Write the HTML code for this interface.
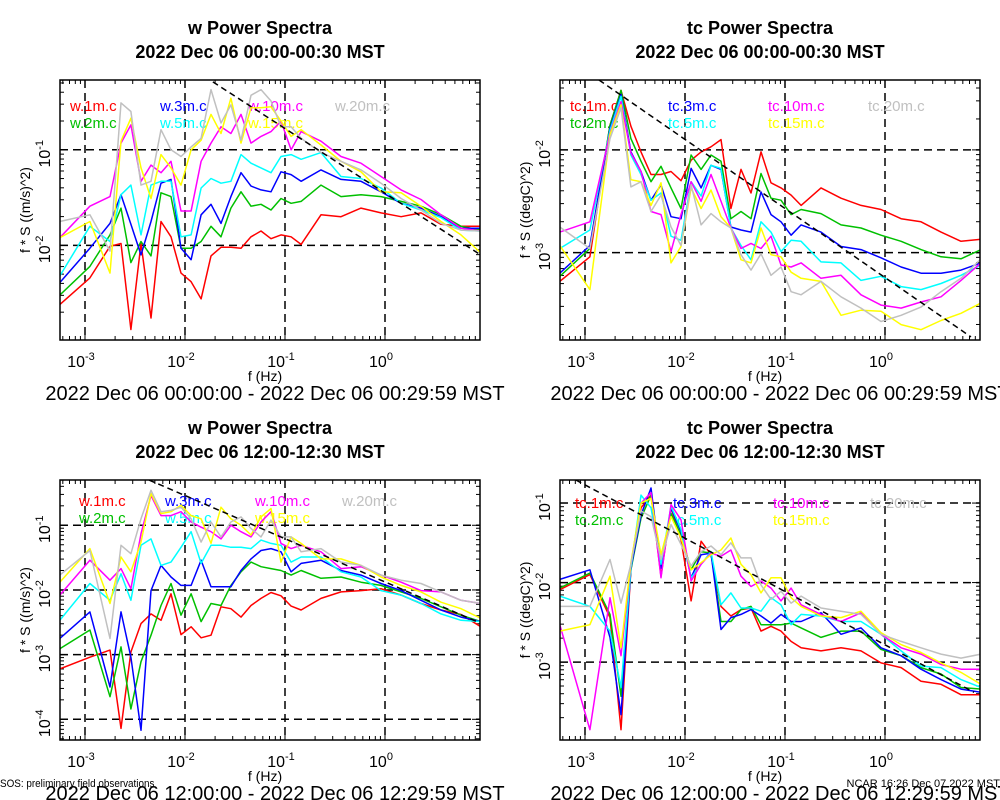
<!DOCTYPE html>
<html><head><meta charset="utf-8">
<style>
html,body{margin:0;padding:0;background:#fff;}
svg{display:block;font-family:"Liberation Sans",sans-serif;}
</style></head>
<body>
<svg id="chart" width="1000" height="800" viewBox="0 0 1000 800" xmlns="http://www.w3.org/2000/svg"></svg>
<script>
// shared frequency categories (Hz)
const freqs = [5.6e-4,1.12e-3,1.78e-3,2.29e-3,2.88e-3,3.63e-3,4.57e-3,5.75e-3,7.24e-3,9.12e-3,0.0115,0.0145,0.0182,0.0229,0.0288,0.0363,0.0457,0.0575,0.0724,0.0912,0.115,0.145,0.229,0.363,0.575,0.912,1.45,2.29,3.63,5.75,9.12];
const xTickExps = [-3,-2,-1,0];
const heights = ["1m","2m","3m","5m","10m","15m","20m"];
const colors = ["#ff0000","#00c000","#0000ff","#00ffff","#ff00ff","#ffff00","#c0c0c0"];

// Panel 1: w 00:00 (log10 of f*S)
const w_am_1m = [-2.62,-2.34,-2.01,-1.98,-2.88,-1.98,-2.76,-1.75,-1.91,-2.29,-2.38,-2.56,-2.11,-2.02,-2.02,-2.03,-1.91,-1.85,-1.93,-1.89,-1.91,-1.99,-1.68,-1.70,-1.61,-1.66,-1.70,-1.66,-1.78,-1.80,-1.80];
const w_am_2m = [-2.52,-2.22,-1.89,-1.61,-2.18,-1.96,-2.11,-1.45,-1.49,-2.03,-2.03,-1.96,-1.80,-1.91,-1.61,-1.44,-1.59,-1.57,-1.63,-1.51,-1.56,-1.54,-1.37,-1.49,-1.47,-1.49,-1.54,-1.59,-1.68,-1.80,-1.84];
const w_am_3m = [-2.39,-2.03,-1.77,-1.47,-1.78,-2.10,-1.75,-1.35,-1.31,-2.03,-2.15,-1.68,-1.57,-1.77,-1.49,-1.24,-1.38,-1.42,-1.44,-1.23,-1.26,-1.33,-1.21,-1.31,-1.33,-1.44,-1.56,-1.61,-1.70,-1.82,-1.82];
const w_am_5m = [-2.32,-1.80,-1.96,-1.47,-1.37,-1.89,-1.37,-1.33,-1.33,-1.91,-1.89,-1.40,-1.30,-1.35,-1.33,-1.05,-1.14,-1.19,-1.24,-1.07,-1.05,-1.10,-1.03,-1.28,-1.30,-1.40,-1.56,-1.63,-1.71,-1.84,-1.85];
const w_am_10m = [-1.92,-1.59,-1.49,-0.93,-0.74,-1.33,-1.16,-1.24,-1.12,-1.64,-1.64,-1.12,-0.93,-0.76,-0.83,-0.63,-0.93,-0.86,-0.81,-0.70,-1.00,-0.81,-0.91,-1.07,-1.14,-1.28,-1.42,-1.52,-1.68,-1.82,-1.85];
const w_am_15m = [-1.92,-1.75,-2.29,-0.91,-0.67,-1.19,-1.51,-1.05,-1.19,-1.37,-1.00,-0.90,-0.63,-0.83,-0.46,-0.93,-0.56,-0.56,-0.55,-0.70,-0.86,-0.79,-0.95,-1.12,-1.23,-1.44,-1.45,-1.59,-1.75,-1.89,-2.08];
const w_am_20m = [-1.75,-1.68,-2.06,-0.51,-0.60,-1.37,-1.33,-0.79,-1.00,-1.07,-0.97,-0.88,-0.37,-0.72,-0.53,-0.90,-0.43,-0.37,-0.49,-0.76,-0.76,-0.88,-1.03,-1.12,-1.21,-1.35,-1.51,-1.63,-1.77,-1.84,-1.85];

// Panel 2: tc 00:00
const tc_am_1m = [-3.28,-3.04,-1.76,-1.42,-1.77,-2.02,-2.24,-2.24,-2.21,-2.30,-2.10,-2.02,-1.97,-1.90,-2.57,-2.19,-2.42,-2.02,-2.32,-2.37,-2.44,-2.54,-2.37,-2.47,-2.54,-2.58,-2.67,-2.70,-2.80,-2.89,-2.87];
const tc_am_2m = [-3.23,-2.96,-1.76,-1.42,-1.89,-2.11,-2.31,-2.16,-2.37,-2.57,-2.05,-2.19,-2.05,-2.11,-2.67,-2.60,-2.67,-2.23,-2.47,-2.49,-2.63,-2.58,-2.62,-2.73,-2.76,-2.83,-2.89,-2.97,-3.04,-3.06,-2.97];
const tc_am_3m = [-3.20,-2.93,-1.79,-1.46,-2.02,-2.21,-2.49,-2.34,-2.65,-2.67,-2.18,-2.37,-2.15,-2.19,-2.75,-2.78,-2.80,-2.41,-2.63,-2.70,-2.83,-2.73,-2.80,-2.94,-2.97,-3.05,-3.14,-3.20,-3.20,-3.17,-3.10];
const tc_am_5m = [-2.96,-2.78,-1.81,-1.48,-2.05,-2.24,-2.49,-2.42,-2.84,-2.88,-2.31,-2.45,-2.15,-2.18,-2.76,-2.93,-3.07,-2.70,-2.80,-2.99,-2.88,-2.89,-3.09,-3.10,-3.27,-3.23,-3.33,-3.36,-3.30,-3.22,-3.12];
const tc_am_10m = [-2.80,-2.70,-1.84,-1.53,-2.03,-2.21,-2.60,-2.63,-2.99,-2.63,-2.31,-2.50,-2.24,-2.50,-2.76,-2.96,-2.91,-2.96,-2.84,-3.12,-3.14,-3.10,-3.25,-3.22,-3.41,-3.51,-3.54,-3.48,-3.43,-3.27,-3.10];
const tc_am_15m = [-2.93,-3.36,-1.85,-1.56,-2.29,-2.31,-2.54,-2.32,-3.10,-2.94,-2.37,-2.57,-2.39,-2.65,-2.76,-3.07,-3.10,-2.76,-3.02,-3.04,-3.19,-3.25,-3.28,-3.61,-3.56,-3.57,-3.70,-3.75,-3.66,-3.59,-3.49];
const tc_am_20m = [-2.75,-2.96,-1.89,-1.59,-2.36,-2.31,-2.60,-2.44,-2.75,-2.93,-2.34,-2.73,-2.62,-2.70,-2.76,-3.02,-3.17,-3.01,-3.22,-3.14,-3.38,-3.41,-3.28,-3.43,-3.54,-3.67,-3.61,-3.53,-3.38,-3.25,-3.06];

// Panel 3: w 12:00
const w_pm_1m = [-3.22,-3.04,-2.93,-4.14,-2.96,-2.52,-2.37,-2.47,-2.06,-2.69,-2.57,-2.74,-2.70,-2.26,-2.29,-2.42,-2.24,-2.13,-2.04,-2.09,-2.25,-2.31,-2.13,-2.03,-2.01,-1.98,-2.08,-2.21,-2.31,-2.38,-2.57];
const w_pm_2m = [-2.91,-2.62,-3.65,-2.88,-3.84,-3.11,-2.70,-2.24,-1.90,-2.39,-2.06,-2.49,-2.21,-2.24,-1.93,-1.72,-1.57,-1.64,-1.67,-1.70,-1.77,-1.70,-1.82,-1.80,-1.88,-1.93,-2.03,-2.13,-2.26,-2.39,-2.49];
const w_pm_3m = [-2.75,-2.34,-3.50,-2.34,-3.04,-4.17,-2.01,-1.62,-1.80,-1.93,-1.93,-1.54,-1.95,-1.95,-1.95,-1.70,-1.52,-1.39,-1.36,-1.41,-1.72,-1.59,-1.54,-1.70,-1.77,-1.90,-2.01,-2.16,-2.31,-2.42,-2.49];
const w_pm_5m = [-2.47,-1.90,-2.16,-1.75,-2.16,-1.31,-1.21,-1.62,-1.57,-1.34,-1.10,-1.59,-1.31,-1.31,-1.34,-1.34,-1.36,-1.23,-1.28,-1.31,-1.57,-1.49,-1.49,-1.72,-1.80,-2.01,-2.08,-2.21,-2.37,-2.47,-2.49];
const w_pm_10m = [-2.08,-1.54,-1.85,-1.67,-1.98,-1.13,-0.54,-0.85,-0.85,-0.79,-0.95,-1.03,-1.10,-1.21,-1.00,-1.10,-1.18,-0.95,-0.79,-1.28,-1.36,-1.31,-1.41,-1.67,-1.64,-1.77,-1.88,-2.01,-2.03,-2.16,-2.21];
const w_pm_15m = [-1.88,-1.36,-2.21,-1.49,-1.72,-1.26,-0.51,-0.82,-0.79,-0.69,-0.85,-0.90,-1.28,-0.72,-0.90,-1.00,-1.15,-0.87,-0.74,-1.57,-1.18,-1.28,-1.52,-1.52,-1.62,-1.80,-1.93,-2.03,-2.19,-2.29,-2.44];
const w_pm_20m = [-1.77,-1.39,-2.75,-1.31,-1.44,-0.90,-0.46,-0.79,-0.77,-0.72,-0.90,-1.26,-0.95,-1.18,-0.95,-0.87,-1.05,-1.18,-0.92,-1.18,-1.18,-1.41,-1.36,-1.57,-1.62,-1.77,-1.85,-1.90,-2.03,-2.16,-2.21];

// Panel 4: tc 12:00
const tc_pm_1m = [-2.09,-1.90,-2.44,-3.85,-1.84,-1.06,-0.90,-1.92,-1.06,-1.46,-2.23,-1.48,-1.65,-2.30,-2.42,-2.34,-2.32,-2.61,-2.55,-2.61,-2.74,-2.82,-2.86,-2.82,-2.86,-3.01,-3.07,-3.24,-3.28,-3.41,-3.41];
const tc_pm_2m = [-2.07,-1.88,-2.40,-3.43,-1.84,-1.19,-0.90,-1.77,-1.13,-1.40,-1.84,-1.61,-1.63,-2.49,-2.49,-2.34,-2.30,-2.53,-2.53,-2.53,-2.51,-2.57,-2.69,-2.61,-2.61,-2.84,-2.92,-3.07,-3.15,-3.32,-3.34];
const tc_pm_3m = [-1.96,-1.84,-2.69,-3.66,-1.82,-1.15,-0.81,-1.82,-1.06,-1.36,-1.94,-1.65,-1.63,-2.59,-2.44,-2.40,-2.34,-2.42,-2.51,-2.40,-2.49,-2.49,-2.38,-2.65,-2.57,-2.82,-2.92,-3.09,-3.22,-3.34,-3.38];
const tc_pm_5m = [-2.17,-2.30,-2.61,-3.32,-1.82,-0.90,-1.06,-1.77,-1.04,-1.33,-1.94,-1.77,-1.61,-2.28,-2.13,-2.32,-2.32,-2.36,-2.19,-2.28,-2.53,-2.40,-2.42,-2.49,-2.49,-2.65,-2.86,-3.05,-3.07,-3.22,-3.32];
const tc_pm_10m = [-2.53,-3.85,-2.19,-2.92,-1.77,-1.00,-0.87,-1.94,-1.02,-1.21,-1.98,-1.77,-1.63,-1.67,-1.59,-1.92,-2.05,-1.98,-2.07,-2.23,-2.07,-2.28,-2.40,-2.49,-2.38,-2.65,-2.82,-2.90,-3.03,-3.09,-3.09];
const tc_pm_15m = [-2.61,-2.53,-1.92,-2.82,-1.75,-1.00,-0.94,-1.65,-1.17,-1.44,-1.84,-1.75,-1.65,-1.59,-1.44,-1.77,-1.90,-2.13,-1.94,-1.94,-2.19,-2.30,-2.42,-2.44,-2.36,-2.63,-2.78,-2.88,-3.01,-3.13,-3.28];
const tc_pm_20m = [-2.30,-2.30,-1.71,-2.26,-1.77,-1.10,-1.17,-1.71,-1.27,-1.52,-1.79,-1.61,-1.54,-1.65,-1.50,-1.69,-1.69,-2.03,-2.21,-2.11,-2.26,-2.17,-2.32,-2.36,-2.40,-2.65,-2.74,-2.82,-2.90,-2.95,-2.90];

// reference -2/3 slope lines: [freq, log10 value] endpoints
const ref_w_am = [[0.019,-0.29],[9.05,-2.10]];
const ref_tc_am = [[0.00138,-1.32],[7.24,-3.82]];
const ref_w_pm = [[0.00437,-0.30],[8.3,-2.49]];
const ref_tc_pm = [[0.00081,-0.71],[7.76,-3.38]];

const NS="http://www.w3.org/2000/svg";
const svg=document.getElementById('chart');
function el(tag,attrs,parent){const e=document.createElementNS(NS,tag);for(const k in attrs)e.setAttribute(k,attrs[k]);(parent||svg).appendChild(e);return e;}

const panels=[
 {id:'w-am',x0:60,y0:80,x1:480,y1:340,yTop:-0.27,yBot:-2.99,yt:[-1,-2],var:'w',unit:'((m/s)^2)',t2:'2022 Dec 06 00:00-00:30 MST',date:'2022 Dec 06 00:00:00 - 2022 Dec 06 00:29:59 MST',series:[w_am_1m,w_am_2m,w_am_3m,w_am_5m,w_am_10m,w_am_15m,w_am_20m],ref:ref_w_am,leg:{x:[70,160,248,335],y:[111,128]}},
 {id:'tc-am',x0:560,y0:80,x1:980,y1:340,yTop:-1.32,yBot:-3.85,yt:[-2,-3],var:'tc',unit:'((degC)^2)',t2:'2022 Dec 06 00:00-00:30 MST',date:'2022 Dec 06 00:00:00 - 2022 Dec 06 00:29:59 MST',series:[tc_am_1m,tc_am_2m,tc_am_3m,tc_am_5m,tc_am_10m,tc_am_15m,tc_am_20m],ref:ref_tc_am,leg:{x:[570,668,768,868],y:[111,128]}},
 {id:'w-pm',x0:60,y0:480,x1:480,y1:740,yTop:-0.30,yBot:-4.32,yt:[-1,-2,-3,-4],var:'w',unit:'((m/s)^2)',t2:'2022 Dec 06 12:00-12:30 MST',date:'2022 Dec 06 12:00:00 - 2022 Dec 06 12:29:59 MST',series:[w_pm_1m,w_pm_2m,w_pm_3m,w_pm_5m,w_pm_10m,w_pm_15m,w_pm_20m],ref:ref_w_pm,leg:{x:[79,165,255,342],y:[506,523]}},
 {id:'tc-pm',x0:560,y0:480,x1:980,y1:740,yTop:-0.71,yBot:-3.98,yt:[-1,-2,-3],var:'tc',unit:'((degC)^2)',t2:'2022 Dec 06 12:00-12:30 MST',date:'2022 Dec 06 12:00:00 - 2022 Dec 06 12:29:59 MST',series:[tc_pm_1m,tc_pm_2m,tc_pm_3m,tc_pm_5m,tc_pm_10m,tc_pm_15m,tc_pm_20m],ref:ref_tc_pm,leg:{x:[575,673,773,870],y:[508,525]}}
];

panels.forEach((p,pi)=>{
 const g=el('g',{});
 
 
 const xL=-3.25,xR=0.95;
 const X=f=>p.x0+(Math.log10(f)-xL)/(xR-xL)*(p.x1-p.x0);
 const XE=e=>p.x0+(e-xL)/(xR-xL)*(p.x1-p.x0);
 const Y=l=>p.y0+(p.yTop-l)/(p.yTop-p.yBot)*(p.y1-p.y0);
 const tcx=(p.x0+p.x1)/2-10;
 let t=el('text',{x:tcx,y:p.y0-46,'text-anchor':'middle','font-size':'18','font-weight':'bold'},g);
 t.textContent=p.var+' Power Spectra';
 
 
 t=el('text',{x:tcx,y:p.y0-22,'text-anchor':'middle','font-size':'18','font-weight':'bold'},g);
 t.textContent=p.t2;
 
 
 const cid='clip'+pi;
 const cp=el('clipPath',{id:cid},g);el('rect',{x:p.x0,y:p.y0,width:p.x1-p.x0,height:p.y1-p.y0},cp);
 xTickExps.forEach(e=>{
  const gl=el('line',{x1:XE(e),x2:XE(e),y1:p.y0,y2:p.y1,stroke:'#000','stroke-width':'1.5','stroke-dasharray':'8,5'},g);
  
  
 });
 p.yt.forEach(e=>{
  const gl=el('line',{x1:p.x0,x2:p.x1,y1:Y(e),y2:Y(e),stroke:'#000','stroke-width':'1.5','stroke-dasharray':'8,5'},g);
  
  
 });
 for(let d=-4;d<=1;d++){for(let m=1;m<10;m++){const lv=d+Math.log10(m);if(lv<xL||lv>xR)continue;const xx=XE(lv);const len=m==1?8:4;
  el('line',{x1:xx,x2:xx,y1:p.y1,y2:p.y1-len,stroke:'#000','stroke-width':'1'},g);
  el('line',{x1:xx,x2:xx,y1:p.y0,y2:p.y0+len,stroke:'#000','stroke-width':'1'},g);}}
 for(let d=-5;d<=0;d++){for(let m=1;m<10;m++){const lv=d+Math.log10(m);if(lv>p.yTop||lv<p.yBot)continue;const yy=Y(lv);const len=m==1?8:4;
  el('line',{x1:p.x0,x2:p.x0+len,y1:yy,y2:yy,stroke:'#000','stroke-width':'1'},g);
  el('line',{x1:p.x1,x2:p.x1-len,y1:yy,y2:yy,stroke:'#000','stroke-width':'1'},g);}}
 heights.forEach((h,i)=>{
  const lt=el('text',{x:p.leg.x[Math.floor(i/2)],y:p.leg.y[i%2],'font-size':'15',fill:colors[i]},g);
  lt.textContent=p.var+'.'+h+'.c';
  
  
 });
 const sg=el('g',{'clip-path':'url(#'+cid+')'},g);
 p.series.forEach((s,i)=>{
  const pts=s.map((v,k)=>X(freqs[k]).toFixed(1)+','+Y(v).toFixed(1)).join(' ');
  const pl=el('polyline',{points:pts,fill:'none',stroke:colors[i],'stroke-width':'1.5','stroke-linejoin':'round'},sg);
  
  
 });
 const rl=el('line',{x1:X(p.ref[0][0]),y1:Y(p.ref[0][1]),x2:X(p.ref[1][0]),y2:Y(p.ref[1][1]),stroke:'#000','stroke-width':'1.5','stroke-dasharray':'6,4'},sg);
 
 
 const fr=el('rect',{x:p.x0,y:p.y0,width:p.x1-p.x0,height:p.y1-p.y0,fill:'none',stroke:'#000','stroke-width':'1.5'},g);
 
 
 xTickExps.forEach(e=>{
  const tl=el('text',{x:XE(e)-4,y:p.y1+27,'text-anchor':'middle','font-size':'16'},g);
  tl.textContent='10';
  const sp=el('tspan',{dy:'-7','font-size':'11'},tl);sp.textContent=String(e);
  
  
 });
 p.yt.forEach(e=>{
  const yy=Y(e);
  const tl=el('text',{x:0,y:0,'text-anchor':'middle','font-size':'16',transform:'translate('+(p.x0-10)+','+(yy+4)+') rotate(-90)'},g);
  tl.textContent='10';
  const sp=el('tspan',{dy:'-7','font-size':'11'},tl);sp.textContent=String(e);
  
  
 });
 const yl=el('text',{x:0,y:0,'text-anchor':'middle','font-size':'14',transform:'translate('+(p.x0-30)+','+((p.y0+p.y1)/2)+') rotate(-90)'},g);
 yl.textContent='f * S '+p.unit;
 
 
 const xl=el('text',{x:(p.x0+p.x1)/2-5,y:p.y1+41,'text-anchor':'middle','font-size':'14'},g);
 xl.textContent='f (Hz)';
 
 
 const dl=el('text',{x:(p.x0+p.x1)/2+(pi%2?10:5),y:p.y1+60,'text-anchor':'middle','font-size':'20'},g);
 dl.textContent=p.date;
 
 
});
let ft=el('text',{x:0,y:787,'font-size':'11',transform:'scale(0.9,1)'});
ft.textContent='SOS: preliminary field observations';


ft=el('text',{x:1000,y:787,'font-size':'11','text-anchor':'end'});
ft.textContent='NCAR 16:26 Dec 07 2022 MST';


</script>
</body></html>
